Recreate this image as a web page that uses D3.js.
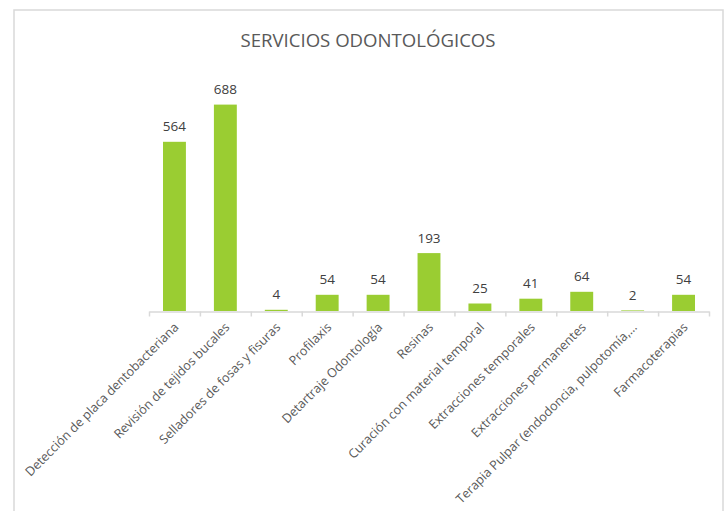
<!DOCTYPE html>
<html><head><meta charset="utf-8">
<script src="https://cdn.jsdelivr.net/npm/d3@7"></script>
<style>
html,body{margin:0;padding:0;background:#fff;}
svg{display:block;}
</style></head>
<body>
<svg id="chart" width="728" height="511"></svg>
<script>
const title = "SERVICIOS ODONTOLÓGICOS";
const categories = [
  "Detección de placa dentobacteriana",
  "Revisión de tejidos bucales",
  "Selladores de fosas y fisuras",
  "Profilaxis",
  "Detartraje Odontología",
  "Resinas",
  "Curación con material temporal",
  "Extracciones temporales",
  "Extracciones permanentes",
  "Terapia Pulpar (endodoncia, pulpotomía,…",
  "Farmacoterapias"
];
const values = [564, 688, 4, 54, 54, 193, 25, 41, 64, 2, 54];
const yDomain = [0, 800];

const svg = d3.select("#chart");
const plot = {left: 149, right: 709, top: 71, bottom: 311};

// frame
svg.append("rect").attr("x", 14).attr("y", 10).attr("width", 709).attr("height", 520)
  .attr("fill", "#fff").attr("stroke", "#d9d9d9").attr("stroke-width", 1.5);

// title
svg.append("text").attr("x", 368).attr("y", 46.5).attr("text-anchor", "middle")
  .attr("font-family", "Open Sans").attr("font-size", 18.6).attr("fill", "#595959")
  .text(title);

const x = d3.scaleBand().domain(categories).range([plot.left, plot.right])
  .paddingInner(0.55).paddingOuter(0.275);
const y = d3.scaleLinear().domain(yDomain).range([plot.bottom, plot.top]);

// bars
svg.append("g").selectAll("rect").data(values).join("rect")
  .attr("x", (d, i) => x(categories[i]))
  .attr("width", x.bandwidth())
  .attr("y", d => y(d))
  .attr("height", d => y(0) - y(d))
  .attr("fill", "#9acd32");

// value labels
svg.append("g").selectAll("text").data(values).join("text")
  .attr("x", (d, i) => x(categories[i]) + x.bandwidth() / 2)
  .attr("y", d => y(d) - 10.5)
  .attr("text-anchor", "middle")
  .attr("font-family", "Open Sans").attr("font-size", 13.5).attr("fill", "#404040")
  .text(d => d);

// axis with ticks at category boundaries
const xb = d3.scaleLinear().domain([0, categories.length]).range([plot.left, plot.right]);
const axisG = svg.append("g").attr("transform", `translate(0,${plot.bottom + 0.5})`)
  .call(d3.axisBottom(xb).tickValues(d3.range(categories.length + 1)).tickFormat("").tickSize(5).tickSizeOuter(0));
axisG.select(".domain").attr("stroke", "#d9d9d9").attr("stroke-width", 1.5);
axisG.selectAll(".tick line").attr("stroke", "#d9d9d9").attr("stroke-width", 1.5);

// category labels rotated -45
svg.append("g").selectAll("text").data(categories).join("text")
  .attr("transform", d => `translate(${x(d) + x.bandwidth() / 2 + 5},${plot.bottom + 17}) rotate(-45)`)
  .attr("text-anchor", "end")
  .attr("font-family", "Open Sans").attr("font-size", 12.6).attr("fill", "#595959")
  .text(d => d);
</script>
</body></html>
